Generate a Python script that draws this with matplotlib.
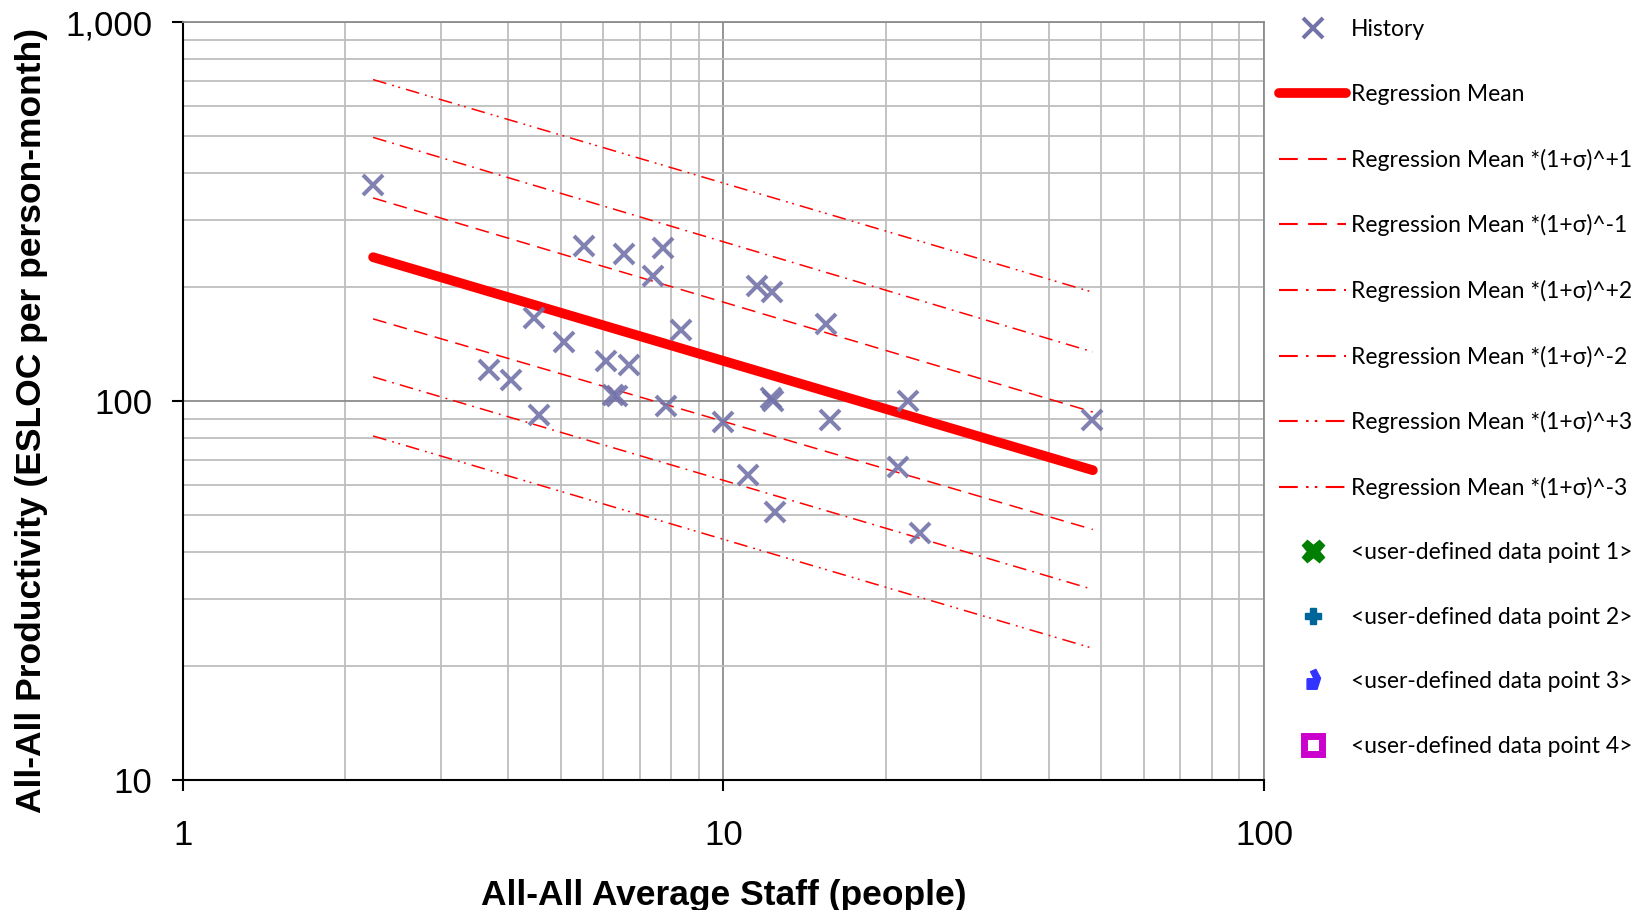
import matplotlib
matplotlib.use("Agg")
import matplotlib.pyplot as plt
from matplotlib.lines import Line2D
from matplotlib.path import Path
import matplotlib.ticker as mticker

# ---- data ----
hist_staff = [2.25, 5.52, 6.55, 7.74, 7.40, 11.52, 12.28, 4.46, 5.07, 8.35,
              6.06, 6.69, 3.68, 4.04, 6.25, 6.35, 7.83, 4.56, 10.0, 15.47,
              12.25, 12.35, 15.74, 21.96, 47.96, 11.11, 21.05, 12.45, 23.09]
hist_prod = [373, 257, 244, 254, 214, 201, 194, 166, 143, 154,
             128, 125, 121, 114, 104, 103, 97, 92, 88, 160,
             102, 100, 89, 100, 89.5, 64, 67, 51, 45]

line_staff = [2.25, 48.2]
mean_prod = [240, 65.8]
plus1_prod = [344, 93.7]
minus1_prod = [165, 45.9]
plus2_prod = [497, 135]
minus2_prod = [116, 31.9]
plus3_prod = [706, 194]
minus3_prod = [81, 22.3]

legend_labels = ["History", "Regression Mean",
                 "Regression Mean *(1+σ)^+1", "Regression Mean *(1+σ)^-1",
                 "Regression Mean *(1+σ)^+2", "Regression Mean *(1+σ)^-2",
                 "Regression Mean *(1+σ)^+3", "Regression Mean *(1+σ)^-3",
                 "<user-defined data point 1>", "<user-defined data point 2>",
                 "<user-defined data point 3>", "<user-defined data point 4>"]

x_ticks = [1, 10, 100]
x_tick_labels = ["1", "10", "100"]
y_ticks = [10, 100, 1000]
y_tick_labels = ["10", "100", "1,000"]

# ---- figure ----
fig = plt.figure(figsize=(16.5, 9.1), dpi=100)
ax = fig.add_axes([0.1107, 0.1425, 0.6555, 0.8330])
ax.set_xscale("log")
ax.set_yscale("log")
ax.set_xlim(1, 100)
ax.set_ylim(10, 1000)

major_grid = "#8C8C8C"
minor_grid = "#BEBEBE"
ax.grid(True, which="minor", color=minor_grid, linewidth=1.3)
ax.grid(True, which="major", color=major_grid, linewidth=1.3)
ax.set_axisbelow(True)

red = "#FF0000"
dash1 = (0, (9, 5))
dash2 = (0, (9, 4, 1.2, 4))
dash3 = (0, (9, 4, 1.2, 3, 1.2, 4))
lw_thin = 1.1

ax.plot(line_staff, plus1_prod, color=red, lw=lw_thin, ls=dash1)
ax.plot(line_staff, minus1_prod, color=red, lw=lw_thin, ls=dash1)
ax.plot(line_staff, plus2_prod, color=red, lw=lw_thin, ls=dash2)
ax.plot(line_staff, minus2_prod, color=red, lw=lw_thin, ls=dash2)
ax.plot(line_staff, plus3_prod, color=red, lw=lw_thin, ls=dash3)
ax.plot(line_staff, minus3_prod, color=red, lw=lw_thin, ls=dash3)
ax.plot(line_staff, mean_prod, color=red, lw=7, solid_capstyle="round")

hist_color = "#7373AA"
ax.plot(hist_staff, hist_prod, ls="none", marker="x", markersize=14.5,
        markeredgewidth=2.9, color=hist_color, alpha=0.9)

# axes styling
for s in ["top", "right"]:
    ax.spines[s].set_color(major_grid)
    ax.spines[s].set_linewidth(1.3)
for s in ["left", "bottom"]:
    ax.spines[s].set_color("black")
    ax.spines[s].set_linewidth(1.5)

ax.xaxis.set_major_locator(mticker.FixedLocator(x_ticks))
ax.yaxis.set_major_locator(mticker.FixedLocator(y_ticks))
ax.xaxis.set_minor_locator(mticker.LogLocator(base=10, subs=range(2, 10)))
ax.yaxis.set_minor_locator(mticker.LogLocator(base=10, subs=range(2, 10)))
ax.xaxis.set_minor_formatter(mticker.NullFormatter())
ax.yaxis.set_minor_formatter(mticker.NullFormatter())
ax.set_xticklabels(x_tick_labels, fontfamily="Liberation Sans", fontsize=25)
ax.set_yticklabels(y_tick_labels, fontfamily="Liberation Sans", fontsize=25)
ax.tick_params(axis="x", which="major", direction="out", length=8, width=1.5, pad=20)
ax.tick_params(axis="y", which="major", direction="out", length=8, width=1.5, pad=14)
ax.tick_params(which="minor", length=0)

ax.set_xlabel("All-All Average Staff (people)", fontfamily="Liberation Sans",
              fontweight="bold", fontsize=25.5)
ax.set_ylabel("All-All Productivity (ESLOC per person-month)",
              fontfamily="Liberation Sans", fontweight="bold", fontsize=25.5)
ax.xaxis.set_label_coords(0.5, -0.152)
ax.xaxis.label.set_verticalalignment("center")
ax.yaxis.set_label_coords(-0.140, 0.475)
ax.yaxis.label.set_verticalalignment("center")

# legend
verts3 = [(-0.55, -0.15), (0.05, -0.15), (-0.25, -0.75), (0.2, -0.95),
          (0.6, -0.2), (0.3, 0.75), (-0.55, 0.75), (-0.55, -0.15)]
verts3 = [(x, -y) for x, y in verts3]
marker3 = Path(verts3)
handles = [
    Line2D([], [], ls="none", marker="x", markersize=14, markeredgewidth=2.9,
           color=hist_color),
    Line2D([], [], color=red, lw=7, solid_capstyle="round"),
    Line2D([], [], color=red, lw=lw_thin + 0.4, ls=dash1),
    Line2D([], [], color=red, lw=lw_thin + 0.4, ls=dash1),
    Line2D([], [], color=red, lw=lw_thin + 0.4, ls=dash2),
    Line2D([], [], color=red, lw=lw_thin + 0.4, ls=dash2),
    Line2D([], [], color=red, lw=lw_thin + 0.4, ls=dash3),
    Line2D([], [], color=red, lw=lw_thin + 0.4, ls=dash3),
    Line2D([], [], ls="none", marker="X", markersize=16, color="#007F00",
           markeredgecolor="#007F00"),
    Line2D([], [], ls="none", marker="P", markersize=12, color="#006699",
           markeredgecolor="#006699"),
    Line2D([], [], ls="none", marker=marker3, markersize=16, color="#3333FF",
           markeredgecolor="#3333FF"),
    Line2D([], [], ls="none", marker="s", markersize=13, markerfacecolor="white",
           markeredgecolor="#CC00CC", markeredgewidth=5),
]
leg = fig.legend(handles, legend_labels, loc="upper left",
                 bbox_to_anchor=(0.766, 0.995), frameon=False,
                 prop={"family": ["Lato", "DejaVu Sans"], "size": 16.5},
                 handlelength=2.95, handletextpad=0.2, labelspacing=1.9,
                 borderaxespad=0.35, borderpad=0.3)

fig.savefig("out.png", dpi=100, facecolor="white")
